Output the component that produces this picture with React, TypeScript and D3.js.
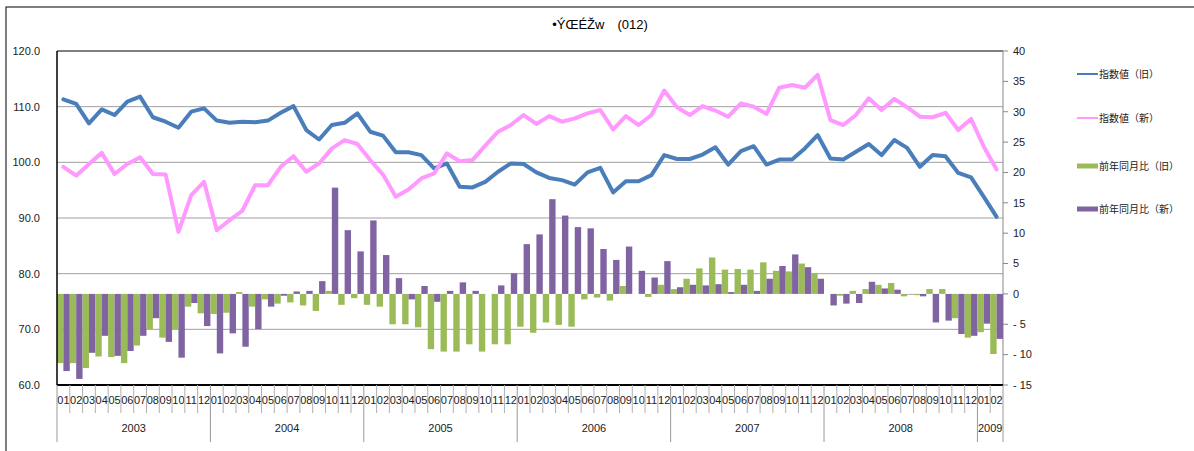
import React from "react";
import * as d3 from "d3";

const titleText = "•ÝŒÉŽw　(012)";
const years = ["2003", "2004", "2005", "2006", "2007", "2008", "2009"];
const monthsPerYear = [12, 12, 12, 12, 12, 12, 2];
const monthCodes = ["01", "02", "03", "04", "05", "06", "07", "08", "09", "10", "11", "12"];

const seriesNames = ["指数値（旧）", "指数値（新）", "前年同月比（旧）", "前年同月比（新）"];

const indexOld = [
  111.3, 110.5, 107.0, 109.5, 108.5, 110.9, 111.8, 108.1, 107.3, 106.2, 109.1, 109.7,
  107.5, 107.1, 107.3, 107.2, 107.5, 108.9, 110.1, 105.8, 104.1, 106.7, 107.1, 108.8,
  105.5, 104.8, 101.8, 101.8, 101.3, 98.9, 99.8, 95.6, 95.5, 96.5, 98.3, 99.8,
  99.7, 98.2, 97.2, 96.8, 96.0, 98.2, 99.0, 94.6, 96.6, 96.6, 97.7, 101.3,
  100.6, 100.6, 101.4, 102.7, 99.6, 102.0, 102.9, 99.6, 100.5, 100.5, 102.5, 104.9,
  100.7, 100.5, 101.9, 103.3, 101.3, 104.0, 102.6, 99.2, 101.3, 101.1, 98.1, 97.3,
  93.8, 90.2,
];

const indexNew = [
  99.2, 97.6, 99.7, 101.7, 97.9, 99.7, 100.9, 97.9, 97.8, 87.5, 94.1, 96.5,
  87.8, 89.6, 91.3, 95.9, 95.9, 99.2, 101.1, 98.3, 99.8, 102.5, 104.0, 103.3,
  100.4, 97.8, 93.8, 95.1, 97.1, 98.0, 101.6, 100.2, 100.4, 103.0, 105.5, 106.7,
  108.5, 106.9, 108.3, 107.3, 107.9, 108.8, 109.4, 105.9, 108.3, 106.7, 108.5, 112.9,
  109.9, 108.5, 110.1, 109.3, 108.2, 110.6, 110.0, 108.7, 113.4, 113.9, 113.4, 115.7,
  107.6, 106.7, 108.5, 111.5, 109.4, 111.4, 109.9, 108.2, 108.1, 108.9, 105.8, 107.8,
  102.8, 98.7,
];

const yoyOld = [
  -11.4, -11.4, -12.2, -10.3, -10.4, -11.4, -8.5, -5.8, -7.2, -5.8, -2.1, -3.2,
  -3.3, -3.1, 0.3, -2.1, -0.9, -1.6, -1.4, -1.9, -2.8, 0.5, -1.8, -0.7,
  -1.8, -2.1, -5.0, -5.0, -5.5, -9.1, -9.5, -9.5, -8.3, -9.5, -8.3, -8.3,
  -5.4, -6.4, -4.7, -5.1, -5.4, -0.9, -0.6, -1.1, 1.3, 0, -0.5, 1.5,
  0.8, 2.5, 4.2, 6.0, 4.0, 4.1, 4.0, 5.2, 3.8, 3.7, 5.0, 3.4,
  0, -0.3, 0.5, 0.8, 1.5, 1.8, -0.4, -0.2, 0.8, 0.8, -4.0, -7.2,
  -6.3, -9.9,
];

const yoyNew = [
  -12.7, -14.0, -9.7, -6.9, -10.2, -9.4, -6.9, -4.0, -7.9, -10.5, -1.5, -5.3,
  -9.8, -6.5, -8.7, -5.8, -2.1, -0.3, 0.4, 0.5, 2.1, 17.5, 10.5, 7.0,
  12.1, 6.4, 2.6, -0.9, 1.3, -1.3, 0.5, 1.9, 0.5, 0, 1.4, 3.4,
  8.2, 9.8, 15.6, 12.9, 11.0, 10.8, 7.4, 5.6, 7.8, 3.8, 2.7, 5.4,
  1.1, 1.5, 1.4, 1.6, 0.3, 1.5, 0.5, 2.5, 4.6, 6.5, 4.4, 2.5,
  -1.9, -1.6, -1.5, 2.0, 0.9, 0.7, -0.1, -0.4, -4.7, -4.4, -6.6, -6.9,
  -4.9, -7.4,
];

const leftTicks = [60, 70, 80, 90, 100, 110, 120];
const rightTicks = [-15, -10, -5, 0, 5, 10, 15, 20, 25, 30, 35, 40];

const colors = ["#4a7ebb", "#ff99ff", "#9bbb59", "#8064a2"];

const W = 1194;
const H = 451;
const M = { left: 57, right: 1003, top: 51, bottom: 385 };
const FONT = "'Liberation Sans', Arial, sans-serif";
const CJK = "'Noto Sans CJK JP', 'Noto Sans', sans-serif";

export default function App() {
  const cats: { year: string; month: string; key: string }[] = [];
  years.forEach((y, yi) => {
    for (let m = 0; m < monthsPerYear[yi]; m++) {
      cats.push({ year: y, month: monthCodes[m], key: `${y}-${monthCodes[m]}` });
    }
  });

  const x = d3.scaleBand<string>().domain(cats.map((c) => c.key)).range([M.left, M.right]).padding(0);
  const bw = x.bandwidth();
  const yL = d3.scaleLinear().domain([60, 120]).range([M.bottom, M.top]);
  const yR = d3.scaleLinear().domain([-15, 40]).range([M.bottom, M.top]);

  const line = d3
    .line<number>()
    .x((_, i) => (x(cats[i].key) as number) + bw / 2)
    .y((d) => yL(d))
    .curve(d3.curveLinear);

  const fmtR = (v: number) => (v < 0 ? `- ${Math.abs(v)}` : `${v}`);

  // year boundaries
  const yearStarts: { year: string; x0: number; x1: number }[] = [];
  let idx = 0;
  years.forEach((y, yi) => {
    const x0 = x(cats[idx].key) as number;
    const last = cats[idx + monthsPerYear[yi] - 1];
    const x1 = (x(last.key) as number) + bw;
    yearStarts.push({ year: y, x0, x1 });
    idx += monthsPerYear[yi];
  });

  const legendY = [74, 118, 166, 209];

  return (
    <svg
      width={W}
      height={H}
      style={{ position: "absolute", left: 0, top: 0, background: "#fff" }}
      fontFamily={FONT}
    >
      <rect x={6} y={7} width={1300} height={500} fill="#fff" stroke="#000" strokeWidth={1} />

      <text x={600} y={29} textAnchor="middle" fontSize={13} fill="#000">
        {titleText}
      </text>

      {/* gridlines */}
      {leftTicks
        .filter((t) => t > 60 && t < 120)
        .map((t) => (
          <line key={t} x1={M.left} x2={M.right} y1={yL(t)} y2={yL(t)} stroke="#a0a0a0" strokeWidth={1} />
        ))}
      <line x1={M.left} x2={M.right} y1={M.top} y2={M.top} stroke="#000" strokeWidth={1} />
      <line x1={M.right} x2={M.right} y1={M.top} y2={M.bottom} stroke="#888" strokeWidth={1} />

      {/* bars */}
      {cats.map((c, i) => {
        const bx = x(c.key) as number;
        const g = yoyOld[i];
        const p = yoyNew[i];
        return (
          <g key={c.key}>
            <rect
              x={bx}
              width={bw / 2}
              y={Math.min(yR(g), yR(0))}
              height={Math.abs(yR(g) - yR(0))}
              fill={colors[2]}
            />
            <rect
              x={bx + bw / 2}
              width={bw / 2}
              y={Math.min(yR(p), yR(0))}
              height={Math.abs(yR(p) - yR(0))}
              fill={colors[3]}
            />
          </g>
        );
      })}

      {/* lines */}
      <path d={line(indexOld) || ""} fill="none" stroke={colors[0]} strokeWidth={4} strokeLinejoin="round" strokeLinecap="round" />
      <path d={line(indexNew) || ""} fill="none" stroke={colors[1]} strokeWidth={4} strokeLinejoin="round" strokeLinecap="round" />

      {/* axes */}
      <line x1={M.left} x2={M.left} y1={M.top} y2={M.bottom} stroke="#000" strokeWidth={1.5} />
      <line x1={M.left} x2={M.right} y1={M.bottom} y2={M.bottom} stroke="#000" strokeWidth={2} />

      {leftTicks.map((t) => (
        <text key={t} x={40} y={yL(t)} dy="0.35em" textAnchor="end" fontSize={11} fill="#222">
          {d3.format(".1f")(t)}
        </text>
      ))}

      {rightTicks.map((t) => (
        <g key={t}>
          <line x1={M.right} x2={M.right + 5} y1={yR(t)} y2={yR(t)} stroke="#888" strokeWidth={1} />
          <text x={1013} y={yR(t)} dy="0.35em" textAnchor="start" fontSize={11} fill="#222">
            {fmtR(t)}
          </text>
        </g>
      ))}

      {/* month ticks and labels */}
      {cats.map((c, i) => {
        const bx = x(c.key) as number;
        return (
          <g key={"m" + c.key}>
            {i > 0 && c.month !== "01" && (
              <line x1={bx} x2={bx} y1={M.bottom} y2={413} stroke="#b0b0b0" strokeWidth={1} />
            )}
            <text x={bx + bw / 2} y={404} textAnchor="middle" fontSize={11} fill="#222">
              {c.month}
            </text>
          </g>
        );
      })}
      {yearStarts.map((ys) => (
        <g key={ys.year}>
          <line x1={ys.x0} x2={ys.x0} y1={M.bottom} y2={442} stroke="#999" strokeWidth={1} />
          <text x={(ys.x0 + ys.x1) / 2} y={432} textAnchor="middle" fontSize={11} fill="#222">
            {ys.year}
          </text>
        </g>
      ))}
      <line x1={M.right} x2={M.right} y1={M.bottom} y2={442} stroke="#999" strokeWidth={1} />

      {/* legend */}
      {seriesNames.map((n, i) => (
        <g key={n}>
          {i < 2 ? (
            <line x1={1077} x2={1098} y1={legendY[i]} y2={legendY[i]} stroke={colors[i]} strokeWidth={2} />
          ) : (
            <rect x={1077} y={legendY[i] - 2.5} width={21} height={5} fill={colors[i]} />
          )}
          <text x={1099} y={legendY[i]} dy="0.35em" fontSize={10} fill="#222" fontFamily={CJK}>
            {n}
          </text>
        </g>
      ))}
    </svg>
  );
}
